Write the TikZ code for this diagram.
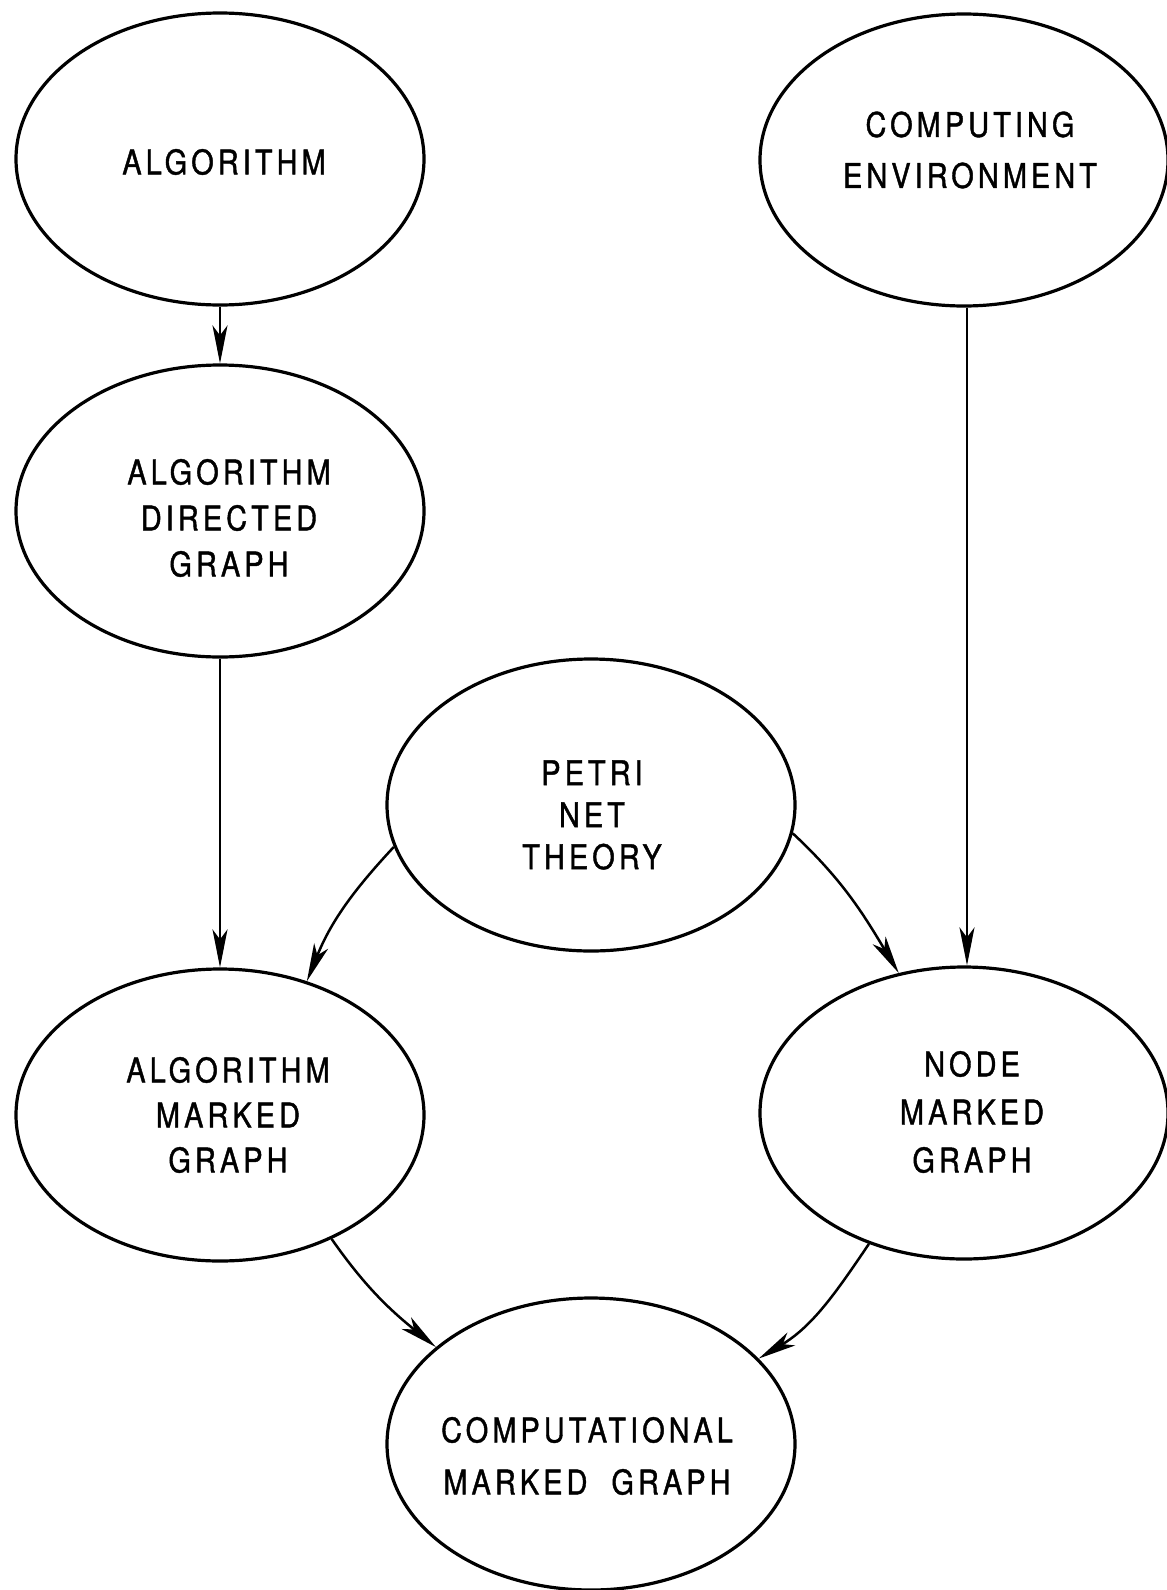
\documentclass[tikz,border=0pt]{standalone}
\usepackage{fontspec}
\newfontfamily\stencil{TeX Gyre Heros}[FakeStretch=0.85,LetterSpace=12,FakeBold=1.2]
\usetikzlibrary{arrows.meta,shapes.geometric}
\begin{document}
\begin{tikzpicture}[x=1pt,y=1pt,
  oval/.style={draw, line width=3.2pt, ellipse, minimum width=408pt, minimum height=292pt, inner sep=0pt},
  lbl/.style={align=center, inner sep=0pt, font=\stencil\fontsize{34}{#1}\selectfont},
  lbl/.default=46,
  conn/.style={line width=2.5pt, -{Stealth[length=38pt, width=15pt, inset=10pt]}}
]
\useasboundingbox (0,0) rectangle (1167,-1590);

% ellipses
\node[oval] (alg)  at (220,-159)  {};
\node[oval] (env)  at (964,-160)  {};
\node[oval] (adg)  at (220,-511)  {};
\node[oval] (petri) at (591,-805) {};
\node[oval] (amg)  at (220,-1115) {};
\node[oval] (nmg)  at (964,-1113) {};
\node[oval] (cmg)  at (591,-1444) {};

% labels
\node[lbl] (alg-t) at (224,-162) {ALGORITHM};
\node[lbl=51] (env-t) at (970,-150) {COMPUTING\\ENVIRONMENT};
\node[lbl=46] (adg-t) at (229,-518) {ALGORITHM\\DIRECTED\\GRAPH};
\node[lbl=42] (petri-t) at (592,-815) {PETRI\\NET\\THEORY};
\node[lbl=45] (amg-t) at (228,-1115) {ALGORITHM\\MARKED\\GRAPH};
\node[lbl=48] (nmg-t) at (972,-1112) {NODE\\MARKED\\GRAPH};
\node[lbl=52] (cmg-t) at (587,-1456) {COMPUTATIONAL\\MARKED\hspace{24pt}GRAPH};

% connectors
\draw[conn] (alg.south) -- (adg.north);
\draw[conn] (adg.south) -- (amg.north);
\draw[conn] ([xshift=3pt]env.south) -- ([xshift=3pt]nmg.north);
\draw[conn] (petri.192.7) to[out=227,in=68] (amg.57.3);
\draw[conn] (petri.352) to[out=317,in=121] (nmg.115.4);
\draw[conn] (amg.312) to[out=305,in=141] (cmg.148.8);
\draw[conn] (nmg.234.7) to[out=236,in=31] (cmg.27.7);
\end{tikzpicture}
\end{document}
